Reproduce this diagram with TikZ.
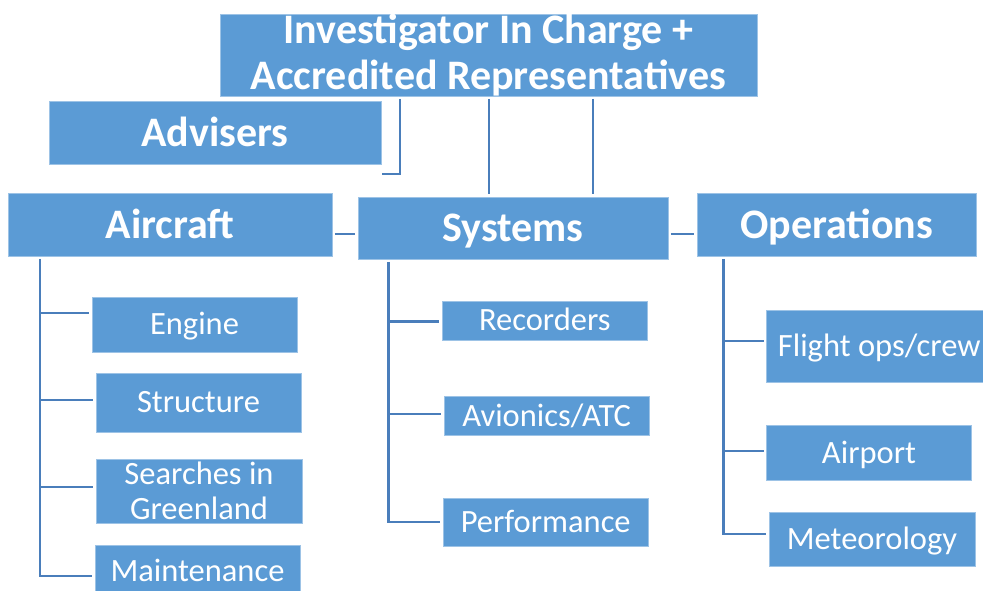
\documentclass[tikz,border=0pt]{standalone}
\usepackage{fontspec}
\setmainfont{Carlito}
\definecolor{boxblue}{HTML}{5B9BD5}
\definecolor{boxedge}{HTML}{9DC3E6}
\definecolor{linkblue}{HTML}{4A7EBB}
\begin{document}
\begin{tikzpicture}[x=1pt,y=-1pt,
  box/.style={rectangle, fill=boxblue, draw=boxedge, line width=0.8pt, text=white, inner sep=0pt},
  head/.style={box, font=\fontsize{42}{46}\selectfont\bfseries},
  leaf/.style={box, font=\fontsize{32.5}{35}\selectfont},
  oneline/.style={text height=#1, text depth=0pt},
  sz/.style 2 args={minimum width=#1pt, minimum height=#2pt},
  conn/.style={draw=linkblue, line width=2.4pt, shorten <=2.5pt, shorten >=2.5pt}]
\useasboundingbox (0,0) rectangle (983,590);
\clip (0,0) rectangle (983,590);

% top level
\node[head, align=center, sz={537}{78}] (top) at (488.5,55) {Investigator In Charge +\\Accredited Representatives};
\node[head, oneline=27pt, sz={332}{63}] (adv) at (215,132.5) {Advisers};

% groups
\node[head, oneline=27pt, sz={324}{63}] (air) at (170,224.5) {Aircraft};
\node[head, oneline=27pt, sz={310}{62}] (sys) at (513,228) {Systems};
\node[head, oneline=27pt, sz={279}{63}] (ops) at (836.5,224.5) {Operations};

% aircraft items
\node[leaf, oneline=20.9pt, sz={205}{55}] (engine) at (194.5,324.5) {Engine};
\node[leaf, oneline=20.9pt, sz={205}{59}] (struct) at (198.5,402.5) {Structure};
\node[leaf, align=center, sz={206}{64}] (search) at (199,491) {Searches in\\Greenland};
\node[leaf, oneline=20.9pt, sz={205}{53}] (maint) at (197.5,571.5) {Maintenance};

% systems items
\node[leaf, oneline=20.9pt, sz={205.5}{39}] (rec) at (544.8,320.5) {Recorders};
\node[leaf, oneline=20.9pt, sz={205}{39}] (avi) at (546.7,415.7) {Avionics/ATC};
\node[leaf, oneline=20.9pt, sz={205}{48}] (perf) at (545.7,522) {Performance};

% operations items
\node[leaf, oneline=20.9pt, sz={225.5}{72}] (fo) at (879.3,346) {Flight ops/crew};
\node[leaf, oneline=20.9pt, sz={205}{55}] (airport) at (869,452.8) {Airport};
\node[leaf, oneline=20.9pt, sz={206}{54}] (met) at (872,539) {Meteorology};

% connector positions
\coordinate (midrow) at (0,234);
\coordinate (tapA) at (489,0);
\coordinate (tapB) at (593,0);
\coordinate (advtap) at (400,0);
\coordinate (advend) at (382,174);
\coordinate (spA) at (40,0);
\coordinate (spB) at (388.4,0);
\coordinate (spC) at (723.4,0);
\coordinate (eb) at (0,312.7);
\coordinate (sb) at (0,400);
\coordinate (gb) at (0,486.7);
\coordinate (mb) at (0,576);
\coordinate (rb) at (0,321.3);
\coordinate (ab) at (0,413.7);
\coordinate (pb) at (0,521.7);
\coordinate (fb) at (0,341);
\coordinate (ob) at (0,451);
\coordinate (tb) at (0,534);

% top connectors
\draw[conn, shorten >=0pt] (top.south -| advtap) |- (advend);
\draw[conn] (top.south -| tapA) -- (sys.north -| tapA);
\draw[conn] (top.south -| tapB) -- (sys.north -| tapB);
\draw[conn] (air.east |- midrow) -- (sys.west |- midrow);
\draw[conn] (sys.east |- midrow) -- (ops.west |- midrow);

% aircraft tree
\draw[conn] (air.south -| spA) |- (maint.west |- mb);
\draw[conn, shorten <=0pt] (spA |- eb) -- (engine.west |- eb);
\draw[conn, shorten <=0pt] (spA |- sb) -- (struct.west |- sb);
\draw[conn, shorten <=0pt] (spA |- gb) -- (search.west |- gb);

% systems tree
\draw[conn] (sys.south -| spB) |- (perf.west |- pb);
\draw[conn, shorten <=0pt] (spB |- rb) -- (rec.west |- rb);
\draw[conn, shorten <=0pt] (spB |- ab) -- (avi.west |- ab);

% operations tree
\draw[conn] (ops.south -| spC) |- (met.west |- tb);
\draw[conn, shorten <=0pt] (spC |- fb) -- (fo.west |- fb);
\draw[conn, shorten <=0pt] (spC |- ob) -- (airport.west |- ob);
\end{tikzpicture}
\end{document}
